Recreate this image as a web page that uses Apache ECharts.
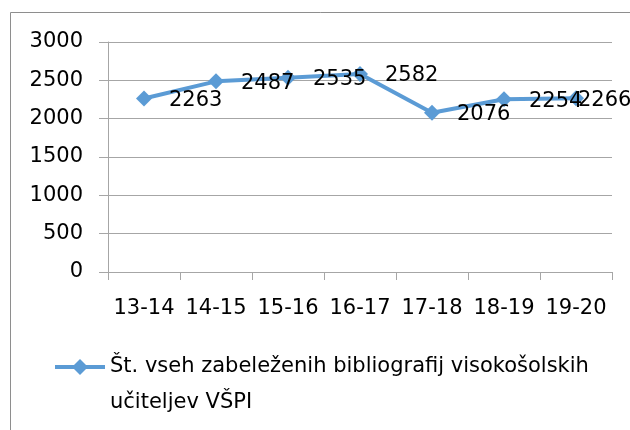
<!DOCTYPE html>
<html>
<head>
<meta charset="utf-8">
<script src="https://cdn.jsdelivr.net/npm/echarts@6/dist/echarts.min.js"></script>
<style>
html,body{margin:0;padding:0;background:#fff;}
#c{width:630px;height:430px;}
</style>
</head>
<body>
<div id="c"></div>
<script>
const categories = ['13-14','14-15','15-16','16-17','17-18','18-19','19-20'];
const values = [2263, 2487, 2535, 2582, 2076, 2254, 2266];
const seriesName = 'Št. vseh zabeleženih bibliografij visokošolskih\nučiteljev VŠPI';
const yTicks = {min: 0, max: 3000, interval: 500};

const FONT = 'DejaVu Sans';
const chart = echarts.init(document.getElementById('c'), null, {renderer: 'canvas'});
const seriesData = values.map((v, i) => i === values.length - 1
  ? {value: v, label: {distance: -6}}
  : v);
chart.setOption({
  animation: false,
  backgroundColor: '#fff',
  textStyle: {fontFamily: FONT},
  graphic: [{
    type: 'rect',
    shape: {x: 10.5, y: 12.5, width: 700, height: 500},
    style: {fill: 'none', stroke: '#8e8e8e', lineWidth: 1},
    silent: true
  }],
  grid: {left: 108, right: 18, top: 42, bottom: 158, containLabel: false},
  xAxis: {
    type: 'category',
    data: categories,
    boundaryGap: true,
    axisLine: {lineStyle: {color: '#a6a6a6', width: 1}},
    axisTick: {show: true, length: 8, alignWithLabel: false, lineStyle: {color: '#a6a6a6'}},
    axisLabel: {fontFamily: FONT, fontSize: 21, color: '#000', margin: 26, interval: 0}
  },
  yAxis: {
    type: 'value',
    min: yTicks.min, max: yTicks.max, interval: yTicks.interval,
    axisLine: {show: true, lineStyle: {color: '#a6a6a6', width: 1}},
    axisTick: {show: true, length: 9, lineStyle: {color: '#a6a6a6'}},
    splitLine: {show: true, lineStyle: {color: '#a6a6a6', width: 1}},
    axisLabel: {fontFamily: FONT, fontSize: 21, color: '#000', margin: 25, formatter: v => String(v)}
  },
  legend: {
    show: true,
    left: 53, top: 313,
    padding: 0,
    itemWidth: 50, itemHeight: 20,
    formatter: name => ' \n' + name,
    lineStyle: {width: 4},
    textStyle: {fontFamily: FONT, fontSize: 21, color: '#000', lineHeight: 36},
    data: [seriesName]
  },
  series: [{
    name: seriesName,
    type: 'line',
    data: seriesData,
    symbol: 'diamond',
    symbolSize: [16, 16],
    itemStyle: {color: '#5b9bd5'},
    lineStyle: {color: '#5b9bd5', width: 4},
    label: {
      show: true,
      position: 'right',
      distance: 17,
      offset: [0, 2],
      fontFamily: FONT,
      fontSize: 21,
      color: '#000'
    }
  }]
});
</script>
</body>
</html>
